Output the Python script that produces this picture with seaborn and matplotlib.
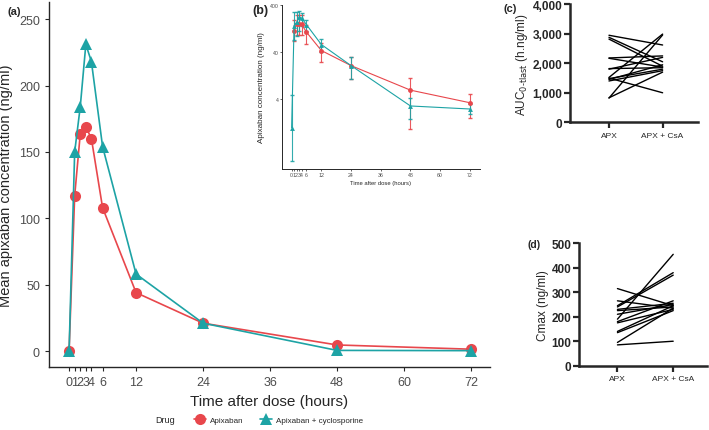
import pandas as pd
import seaborn as sns
import matplotlib.pyplot as plt
import matplotlib.font_manager as fm
from matplotlib.lines import Line2D
from matplotlib.ticker import FuncFormatter

# panel (a): mean concentrations
hours = [0, 1, 2, 3, 4, 6, 12, 24, 48, 72]
apx_mean = [0, 117, 163.5, 169, 160, 108, 44, 21, 4.6, 1.4]
csa_mean = [0, 150, 184, 231, 218, 154, 58, 21, 0.5, 0.3]

# panel (b): log scale with error bars
b_hours_apx = [1, 2, 3, 4, 6, 12, 24, 48, 72]
b_apx = [116, 161, 165, 160, 108, 44, 21, 6.3, 3.4]
b_apx_lo = [70, 96, 96, 96, 62, 25, 10.7, 0.93, 1.64]
b_apx_hi = [200, 254, 254, 254, 156, 64, 32, 11.6, 5.3]
b_hours_csa = [0, 1, 2, 3, 4, 6, 12, 24, 48, 72]
b_csa = [1.0, 149, 175, 223, 218, 156, 59, 21, 2.9, 2.5]
b_csa_lo = [0.2, 75, 88, 112, 143, 112, 40, 10.7, 1.56, 2.0]
b_csa_hi = [5, 290, 290, 298, 282, 199, 78, 32, 4.2, 3.2]

# panel (c): AUC per subject
auc_apx = [2950, 2880, 2820, 2180, 1800, 1820, 1500, 1450, 1400, 1520, 820, 830, 1480, 2170]
auc_csa = [2620, 2050, 1900, 2250, 2200, 1850, 1000, 1950, 1750, 2990, 2960, 1700, 1800, 1870]

# panel (d): Cmax per subject
cmax_apx = [315, 265, 245, 240, 230, 225, 210, 190, 180, 175, 140, 135, 95, 85]
cmax_csa = [245, 235, 380, 370, 255, 240, 250, 455, 265, 230, 245, 225, 235, 100]

groups = ["APX", "APX + CsA"]
drugs = ["Apixaban", "Apixaban + cyclosporine"]
RED = "#E8474C"
CYAN = "#1DA3A5"
GREY = "#4D4D4D"

sns.set_style("ticks")
plt.rcParams["font.family"] = ["Liberation Sans", "DejaVu Sans"]
names = {f.name for f in fm.fontManager.ttflist}
NARROW = "Liberation Sans Narrow" if "Liberation Sans Narrow" in names else "Liberation Sans"

fig = plt.figure(figsize=(7.09, 4.31), dpi=100)

# ---- (a)
ax = fig.add_axes([0.0691, 0.1462, 0.622, 0.847])
df_a = pd.DataFrame({
    "time": hours * 2,
    "conc": apx_mean + csa_mean,
    "Drug": [drugs[0]] * len(hours) + [drugs[1]] * len(hours),
})
sns.lineplot(data=df_a, x="time", y="conc", hue="Drug", style="Drug",
             markers={drugs[0]: "o", drugs[1]: "^"}, dashes=False,
             palette={drugs[0]: RED, drugs[1]: CYAN}, markersize=8,
             markeredgewidth=0, linewidth=1.2, legend=False, ax=ax)
ax.set_xlim(-3.6, 75.4)
ax.set_ylim(-12, 263)
ax.set_xticks([0, 1, 2, 3, 4, 6, 12, 24, 36, 48, 60, 72])
ax.set_yticks([0, 50, 100, 150, 200, 250])
ax.tick_params(labelsize=9, labelcolor=GREY, length=3, width=0.8)
ax.set_xlabel("Time after dose (hours)", fontsize=11)
ax.set_ylabel("Mean apixaban concentration (ng/ml)", fontsize=10.5)
sns.despine(ax=ax)
for s in ["left", "bottom"]:
    ax.spines[s].set_linewidth(1.0)

# ---- (b)
bx = fig.add_axes([0.3977, 0.6056, 0.279, 0.3805])
df_b = pd.DataFrame({
    "time": b_hours_apx + b_hours_csa,
    "conc": b_apx + b_csa,
    "Drug": [drugs[0]] * len(b_apx) + [drugs[1]] * len(b_csa),
})
bx.errorbar(b_hours_apx, b_apx,
            yerr=[[m - l for m, l in zip(b_apx, b_apx_lo)], [h - m for m, h in zip(b_apx, b_apx_hi)]],
            fmt="none", ecolor=RED, elinewidth=0.8, capsize=1.2, alpha=0.9)
bx.errorbar(b_hours_csa, b_csa,
            yerr=[[m - l for m, l in zip(b_csa, b_csa_lo)], [h - m for m, h in zip(b_csa, b_csa_hi)]],
            fmt="none", ecolor=CYAN, elinewidth=0.8, capsize=1.2, alpha=0.9)
sns.lineplot(data=df_b, x="time", y="conc", hue="Drug", style="Drug",
             markers={drugs[0]: "o", drugs[1]: "^"}, dashes=False,
             palette={drugs[0]: RED, drugs[1]: CYAN}, markersize=3.5,
             markeredgewidth=0, linewidth=0.8, legend=False, ax=bx)
bx.set_yscale("log")
bx.set_xlim(-3.9, 76)
bx.set_ylim(0.132, 410)
bx.set_yticks([4, 40, 400])
bx.yaxis.set_minor_locator(plt.NullLocator())
bx.yaxis.set_major_formatter(FuncFormatter(lambda v, p: f"{v:g}"))
bx.set_xticks([0, 1, 2, 3, 4, 6, 12, 24, 36, 48, 60, 72])
bx.tick_params(labelsize=3.8, labelcolor=GREY, length=1.5, width=0.5, pad=1)
bx.set_xlabel("Time after dose (hours)", fontsize=4.2, labelpad=2)
bx.set_ylabel("Apixaban concentration (ng/ml)", fontsize=5.8, labelpad=3)
sns.despine(ax=bx)
for s in ["left", "bottom"]:
    bx.spines[s].set_linewidth(0.7)


def paired(rect, apx, csa, ylim, yticks, ylabel, label_size):
    p = fig.add_axes(rect)
    n = len(apx)
    df = pd.DataFrame({
        "group": [groups[0]] * n + [groups[1]] * n,
        "value": apx + csa,
        "subject": list(range(n)) * 2,
    })
    sns.lineplot(data=df, x="group", y="value", units="subject", estimator=None,
                 color="black", linewidth=1.0, ax=p)
    p.set_ylim(*ylim)
    p.set_yticks(yticks)
    p.yaxis.set_major_formatter(FuncFormatter(lambda v, pos: f"{int(v):,}"))
    p.tick_params(axis="y", labelsize=8.5, length=4, width=1.6, pad=1.5)
    p.tick_params(axis="x", labelsize=6, length=4, width=1.6, pad=3)
    for t in p.get_yticklabels():
        t.set_fontweight("bold")
    for t in p.get_xticklabels():
        t.set_family(NARROW)
    p.set_xlabel("")
    p.set_ylabel(ylabel, fontsize=label_size, labelpad=2)
    sns.despine(ax=p)
    for s in ["left", "bottom"]:
        p.spines[s].set_linewidth(1.8)
    return p


cx = paired([0.804, 0.714, 0.1805, 0.2737], auc_apx, auc_csa, (0, 4000),
            [0, 1000, 2000, 3000, 4000], r"AUC$_{0\text{-}\mathrm{tlast}}$ (h.ng/ml)", 8.5)
cx.set_xlim(-0.726, 1.66)
dx = paired([0.817, 0.1492, 0.1797, 0.284], cmax_apx, cmax_csa, (0, 500),
            [0, 100, 200, 300, 400, 500], "Cmax (ng/ml)", 8.5)
dx.set_xlim(-0.685, 1.6)

# panel tags
fig.text(8 / 709, 1 - 12 / 431, "(a)", fontsize=8, fontweight="bold", va="center")
fig.text(252 / 709, 1 - 11 / 431, "(b)", fontsize=9, fontweight="bold", va="center")
fig.text(504 / 709, 1 - 9 / 431, "(c)", fontsize=8, fontweight="bold", va="center")
fig.text(527 / 709, 1 - 245 / 431, "(d)", fontsize=7.5, fontweight="bold", va="center")

# legend
fig.text(165 / 709, 1 - 421 / 431, "Drug", fontsize=6.5, family=NARROW, ha="center", va="center")
handles = [
    Line2D([], [], color=RED, marker="o", markersize=8, markeredgewidth=0, linewidth=1.2),
    Line2D([], [], color=CYAN, marker="^", markersize=8, markeredgewidth=0, linewidth=1.2),
]
leg = fig.legend(handles, drugs, loc="center left", bbox_to_anchor=(187 / 709, 1 - 421 / 431),
                 ncol=2, frameon=False, handlelength=1.5, handletextpad=0.5, columnspacing=2.0,
                 prop={"family": NARROW, "size": 5.8})

fig.savefig("out.png", dpi=100)
